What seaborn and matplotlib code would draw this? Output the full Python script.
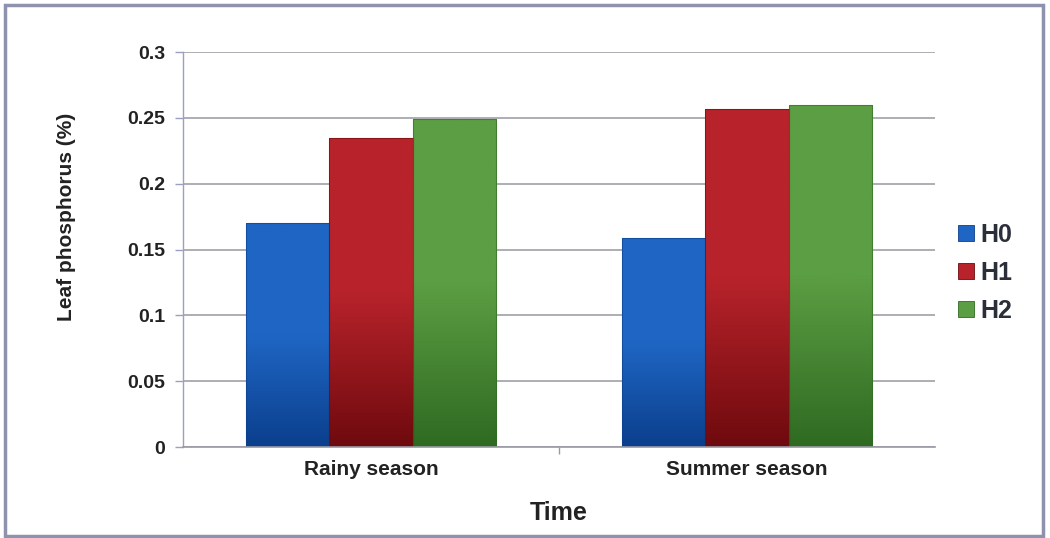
import numpy as np
import pandas as pd
import matplotlib
matplotlib.use("Agg")
import matplotlib.pyplot as plt
from matplotlib.patches import Rectangle
from matplotlib.colors import LinearSegmentedColormap
import seaborn as sns

# Leaf phosphorus by season and treatment
seasons = ["Rainy season", "Summer season"]
treatments = ["H0", "H1", "H2"]
h0 = [0.17, 0.159]
h1 = [0.235, 0.257]
h2 = [0.249, 0.260]
yticks = [0, 0.05, 0.1, 0.15, 0.2, 0.25, 0.3]
ytick_labels = ["0", "0.05", "0.1", "0.15", "0.2", "0.25", "0.3"]

colors = {"H0": "#1f66c4", "H1": "#b8232b", "H2": "#5c9e43"}
dark = {"H0": "#0b3f8c", "H1": "#6e0a0e", "H2": "#2f6a22"}

df = pd.DataFrame({
    "season": seasons * 3,
    "treatment": ["H0"] * 2 + ["H1"] * 2 + ["H2"] * 2,
    "value": h0 + h1 + h2,
})

sns.set_theme(style="white")
plt.rcParams["font.family"] = ["Liberation Sans", "DejaVu Sans"]

fig = plt.figure(figsize=(10.5, 5.38), dpi=100)
ax = fig.add_axes([0.1743, 0.1691, 0.8905 - 0.1743, 0.9033 - 0.1691])

sns.barplot(data=df, x="season", y="value", hue="treatment",
            hue_order=treatments, order=seasons, palette=colors,
            width=0.667, ax=ax, legend=False, saturation=1,
            edgecolor="none", linewidth=0)

# Vertical shading on each bar, light on top, darker at the base
for patch, t in zip(ax.patches, [p for p in treatments for _ in seasons]):
    x0, y0 = patch.get_x(), patch.get_y()
    w, h = patch.get_width(), patch.get_height()
    cmap = LinearSegmentedColormap.from_list("g", [dark[t], colors[t], colors[t]])
    grad = np.linspace(0, 1, 256).reshape(-1, 1)
    im = ax.imshow(grad, extent=[x0, x0 + w, y0, y0 + h], origin="lower",
                   cmap=cmap, aspect="auto", zorder=patch.get_zorder() + 0.1)
    im.set_clip_path(patch)
    ax.add_patch(Rectangle((x0, y0), w, h, fill=False,
                           edgecolor=dark[t], linewidth=0.8, alpha=0.6,
                           zorder=patch.get_zorder() + 0.2))
ax.set_xlim(-0.5, 1.5)
ax.set_ylim(0, 0.3)

ax.set_yticks(yticks)
ax.set_yticklabels(ytick_labels)
ax.yaxis.grid(True, color="#a0a0a8", linewidth=1.2)
ax.set_axisbelow(True)
for s in ["top", "right"]:
    ax.spines[s].set_visible(False)
ax.spines["left"].set_color("#9aa0c0")
ax.spines["left"].set_linewidth(1)
ax.spines["bottom"].set_color("#9a9aa4")
ax.spines["bottom"].set_linewidth(1.2)

ax.tick_params(axis="y", which="major", left=True, length=6, width=1,
               color="#9aa0c0", labelsize=14, pad=7)
ax.set_xticks([0, 1])
ax.set_xticklabels(seasons)
ax.set_xticks([0.5], minor=True)
ax.tick_params(axis="x", which="major", bottom=False, labelsize=15, pad=3)
ax.tick_params(axis="x", which="minor", bottom=True, length=5, width=1,
               color="#9a9aa4")
for lbl in ax.get_xticklabels() + ax.get_yticklabels():
    lbl.set_fontweight("bold")
    lbl.set_color("#222222")

ax.set_xlabel("Time", fontsize=18, fontweight="bold", labelpad=16, color="#222222")
ax.set_ylabel("Leaf phosphorus (%)", fontsize=15, fontweight="bold",
              color="#222222")
ax.yaxis.set_label_coords(-0.142, 0.582)

handles = [Rectangle((0, 0), 1, 1, facecolor=colors[t], edgecolor=dark[t],
                     linewidth=0.6) for t in treatments]
leg = fig.legend(handles, treatments, loc="center left",
                 bbox_to_anchor=(0.891, 0.4926), frameon=False,
                 prop={"weight": "bold", "size": 18},
                 handlelength=0.65, handleheight=0.6, handletextpad=0.25,
                 labelspacing=0.55)
for txt in leg.get_texts():
    txt.set_color("#2b2f3a")

# Outer frame around the figure
fig.patches.append(Rectangle((5 / 1050, 2 / 538), 1038 / 1050, 531 / 538,
                             transform=fig.transFigure, fill=False,
                             edgecolor="#8e92ac", linewidth=2.5))

fig.savefig("out.png", dpi=100)
